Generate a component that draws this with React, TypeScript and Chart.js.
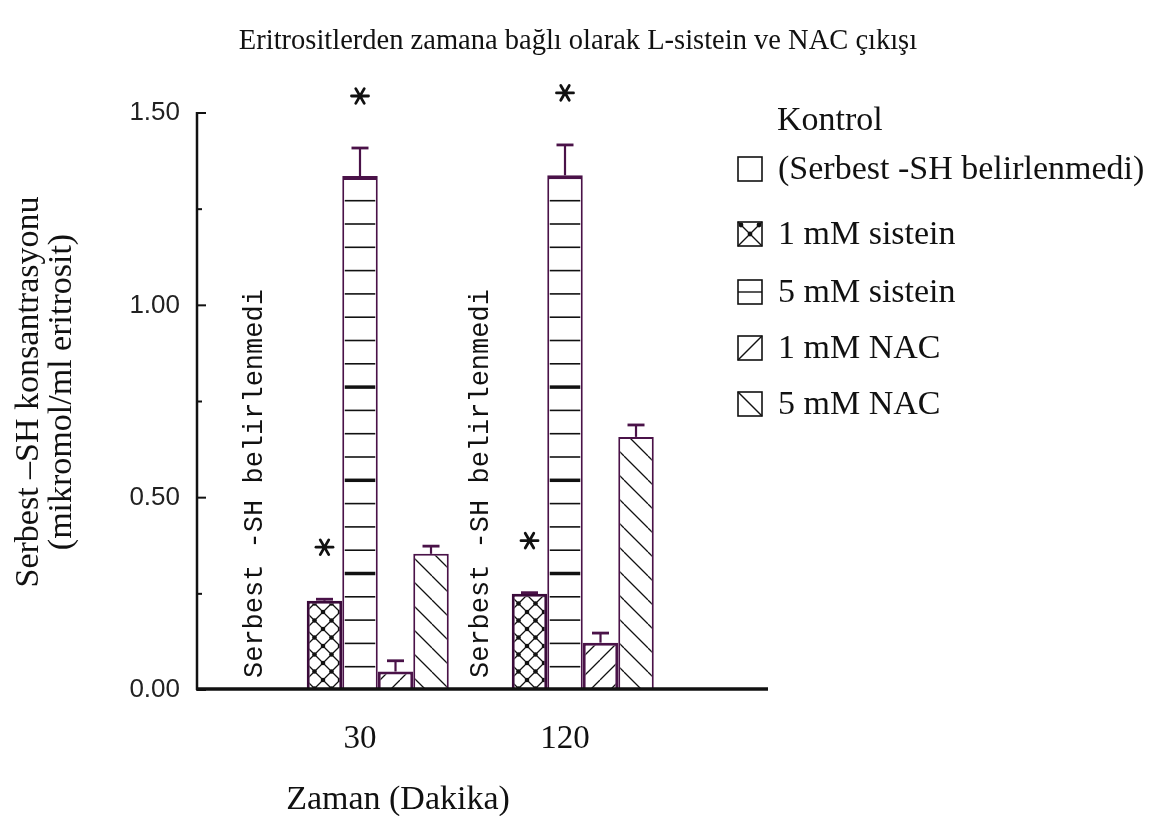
import React, { useEffect, useRef } from 'react';
import { Chart, registerables } from 'chart.js';

Chart.register(...registerables);

// Sampling times (minutes)
const groups = ['30', '120'];

// Free -SH concentration (µmol / ml erythrocyte) per treatment
const kontrol: (number | null)[] = [null, null];
const sistein1 = [0.232, 0.25];
const sistein1Err = [0.004, 0.003];
const sistein5 = [1.336, 1.338];
const sistein5Err = [0.073, 0.079];
const nac1 = [0.048, 0.123];
const nac1Err = [0.028, 0.025];
const nac5 = [0.354, 0.658];
const nac5Err = [0.02, 0.031];

// Significance marks (per dataset, per time point)
const sistein1Star = [true, true];
const sistein5Star = [true, true];

const yTickValues = [0, 0.25, 0.5, 0.75, 1.0, 1.25, 1.5];
const yMajor = [0, 0.5, 1.0, 1.5];

const chartTitle = 'Eritrositlerden zamana bağlı olarak L-sistein ve NAC çıkışı';
const yTitleLines = ['Serbest –SH konsantrasyonu', '(mikromol/ml eritrosit)'];
const xTitle = 'Zaman (Dakika)';
const notMeasured = 'Serbest -SH belirlenmedi';
const legendHeader = 'Kontrol';
const legendLabels = ['(Serbest -SH belirlenmedi)', '1 mM sistein', '5 mM sistein', '1 mM NAC', '5 mM NAC'];

const PURPLE = '#4a1248';
const DARK_PURPLE = '#3a0a3a';
const SERIF = '"Liberation Serif", "Times New Roman", serif';

// the drawn axis lines run past the category band on both sides
const AXIS_EXT_LEFT = 60.5;
const AXIS_EXT_RIGHT = 100.5;

function tile(size: number, draw: (c: CanvasRenderingContext2D, s: number) => void): CanvasPattern | string {
  const cv = document.createElement('canvas');
  cv.width = size;
  cv.height = size;
  const c = cv.getContext('2d');
  if (!c) return '#ffffff';
  c.fillStyle = '#ffffff';
  c.fillRect(0, 0, size, size);
  draw(c, size);
  const p = c.createPattern(cv, 'repeat');
  return p || '#ffffff';
}

function crossPattern() {
  return tile(17, (c, s) => {
    c.strokeStyle = '#111';
    c.lineWidth = 1.3;
    c.beginPath();
    c.moveTo(0, 0); c.lineTo(s, s);
    c.moveTo(s, 0); c.lineTo(0, s);
    c.stroke();
    c.fillStyle = '#111';
    const pts = [[s / 2, s / 2], [0, 0], [s, 0], [0, s], [s, s]];
    pts.forEach(([x, y]) => {
      c.beginPath();
      c.arc(x, y, 2.3, 0, Math.PI * 2);
      c.fill();
    });
  });
}

function slashPattern(size: number, forward: boolean) {
  return tile(size, (c, s) => {
    c.strokeStyle = '#111';
    c.lineWidth = 1.3;
    c.beginPath();
    for (let k = -1; k <= 1; k++) {
      if (forward) {
        c.moveTo(k * s, s); c.lineTo(k * s + s, 0);
      } else {
        c.moveTo(k * s, 0); c.lineTo(k * s + s, s);
      }
    }
    c.stroke();
  });
}

const errs = [null, sistein1Err, sistein5Err, nac1Err, nac5Err];
const stars = [null, sistein1Star, sistein5Star, null, null];

const decorPlugin = {
  id: 'decor',
  beforeDraw(chart: any) {
    const { ctx, width, height } = chart;
    ctx.save();
    ctx.fillStyle = '#ffffff';
    ctx.fillRect(0, 0, width, height);
    ctx.restore();
  },
  afterDatasetsDraw(chart: any) {
    const { ctx, chartArea } = chart;
    const yS = chart.scales.y;
    const axisLeft = chartArea.left - AXIS_EXT_LEFT;
    const axisRight = chartArea.right + AXIS_EXT_RIGHT;
    ctx.save();

    // horizontal rulings inside the 5 mM sistein bars
    const m5 = chart.getDatasetMeta(2);
    m5.data.forEach((el: any) => {
      const left = el.x - el.width / 2 + 2.5;
      const right = el.x + el.width / 2 - 2.5;
      ctx.strokeStyle = '#111';
      for (let k = 1; ; k++) {
        const yy = el.base - 23.3 * k;
        if (yy < el.y + 6) break;
        const thick = k >= 5 && k <= 13 && k % 4 === 1;
        ctx.lineWidth = thick ? 3.5 : 1.6;
        ctx.beginPath();
        ctx.moveTo(left, yy);
        ctx.lineTo(right, yy);
        ctx.stroke();
      }
    });

    // error bars
    chart.data.datasets.forEach((ds: any, di: number) => {
      const e = errs[di];
      if (!e) return;
      const meta = chart.getDatasetMeta(di);
      meta.data.forEach((el: any, i: number) => {
        const v = ds.data[i];
        if (v == null || !e[i]) return;
        const yTop = yS.getPixelForValue(v + e[i]);
        ctx.strokeStyle = PURPLE;
        ctx.lineWidth = 2.2;
        ctx.beginPath();
        ctx.moveTo(el.x, el.y);
        ctx.lineTo(el.x, yTop);
        ctx.stroke();
        ctx.lineWidth = 2.8;
        ctx.beginPath();
        ctx.moveTo(el.x - 8.5, yTop);
        ctx.lineTo(el.x + 8.5, yTop);
        ctx.stroke();
      });
    });

    // significance asterisks
    chart.data.datasets.forEach((ds: any, di: number) => {
      const st = stars[di];
      if (!st) return;
      const e = errs[di] || [];
      const meta = chart.getDatasetMeta(di);
      meta.data.forEach((el: any, i: number) => {
        if (!st[i]) return;
        const v = ds.data[i] + (e[i] || 0);
        const cy = yS.getPixelForValue(v) - 52;
        const cx = el.x;
        ctx.strokeStyle = '#111';
        ctx.lineWidth = 2.8;
        ctx.lineCap = 'round';
        for (let a = 0; a < 3; a++) {
          const ang = (a * Math.PI) / 3;
          const dx = Math.cos(ang) * 8.5;
          const dy = Math.sin(ang) * 8.5;
          ctx.beginPath();
          ctx.moveTo(cx - dx, cy - dy);
          ctx.lineTo(cx + dx, cy + dy);
          ctx.stroke();
        }
        ctx.fillStyle = '#111';
        ctx.beginPath();
        ctx.arc(cx, cy, 2.6, 0, Math.PI * 2);
        ctx.fill();
        ctx.lineCap = 'butt';
      });
    });

    // axes with inward ticks
    ctx.strokeStyle = '#111';
    ctx.lineWidth = 2.5;
    ctx.beginPath();
    ctx.moveTo(axisLeft, chartArea.top - 1);
    ctx.lineTo(axisLeft, chartArea.bottom);
    ctx.stroke();
    ctx.lineWidth = 2;
    yTickValues.forEach((v) => {
      const yy = yS.getPixelForValue(v);
      const len = yMajor.includes(v) ? 9 : 5;
      ctx.beginPath();
      ctx.moveTo(axisLeft, yy);
      ctx.lineTo(axisLeft + len, yy);
      ctx.stroke();
    });
    ctx.lineWidth = 3.5;
    ctx.beginPath();
    ctx.moveTo(axisLeft - 1, chartArea.bottom - 1);
    ctx.lineTo(axisRight, chartArea.bottom - 1);
    ctx.stroke();

    // "not measured" notes next to the empty control slots
    const m1 = chart.getDatasetMeta(1);
    const noteShift = [-34, -13];
    ctx.fillStyle = '#111';
    ctx.font = `27px "Liberation Mono", "Courier New", monospace`;
    ctx.textAlign = 'left';
    ctx.textBaseline = 'middle';
    m1.data.forEach((el: any, i: number) => {
      const slotCenter = el.x - el.width;
      ctx.save();
      ctx.translate(slotCenter + noteShift[i], chartArea.bottom - 12);
      ctx.rotate(-Math.PI / 2);
      ctx.fillText(notMeasured, 0, 0);
      ctx.restore();
    });

    ctx.restore();
  },
  afterDraw(chart: any) {
    const { ctx } = chart;
    ctx.save();
    ctx.fillStyle = '#111';
    ctx.textBaseline = 'middle';

    // main title
    ctx.font = `28.5px ${SERIF}`;
    ctx.textAlign = 'center';
    ctx.fillText(chartTitle, 578, 42);

    // axis titles
    ctx.font = `34px ${SERIF}`;
    const yCenters = [[29, 392], [62, 392]];
    yTitleLines.forEach((t, i) => {
      ctx.save();
      ctx.translate(yCenters[i][0], yCenters[i][1]);
      ctx.rotate(-Math.PI / 2);
      ctx.fillText(t, 0, 0);
      ctx.restore();
    });
    ctx.font = `34px ${SERIF}`;
    ctx.fillText(xTitle, 398, 800);

    // legend
    ctx.textAlign = 'left';
    ctx.font = `34px ${SERIF}`;
    ctx.fillText(legendHeader, 777, 121);
    const boxX = 738;
    const boxS = 24;
    const boxY = [157, 222, 280, 336, 392];
    legendLabels.forEach((lab, i) => {
      const by = boxY[i];
      ctx.strokeStyle = '#111';
      ctx.lineWidth = 1.6;
      ctx.strokeRect(boxX, by, boxS, boxS);
      ctx.lineWidth = 1.4;
      ctx.beginPath();
      if (i === 1) {
        ctx.moveTo(boxX, by); ctx.lineTo(boxX + boxS, by + boxS);
        ctx.moveTo(boxX + boxS, by); ctx.lineTo(boxX, by + boxS);
      } else if (i === 2) {
        ctx.moveTo(boxX, by + boxS / 2); ctx.lineTo(boxX + boxS, by + boxS / 2);
      } else if (i === 3) {
        ctx.moveTo(boxX, by + boxS); ctx.lineTo(boxX + boxS, by);
      } else if (i === 4) {
        ctx.moveTo(boxX, by); ctx.lineTo(boxX + boxS, by + boxS);
      }
      ctx.stroke();
      if (i === 1) {
        ctx.fillStyle = '#111';
        [[boxX + 3, by + 3], [boxX + boxS - 3, by + 3], [boxX + boxS / 2, by + boxS / 2]].forEach(([px, py]) => {
          ctx.beginPath();
          ctx.arc(px, py, 2.4, 0, Math.PI * 2);
          ctx.fill();
        });
      }
      ctx.fillStyle = '#111';
      ctx.fillText(lab, 778, by + boxS / 2 + 1);
    });

    ctx.restore();
  },
};

export default function App() {
  const ref = useRef<HTMLCanvasElement | null>(null);

  useEffect(() => {
    if (!ref.current) return;

    const chart = new Chart(ref.current, {
      type: 'bar',
      data: {
        labels: groups,
        datasets: [
          { label: 'Kontrol', data: kontrol, backgroundColor: '#ffffff', borderColor: PURPLE, borderWidth: 2 },
          {
            label: '1 mM sistein', data: sistein1, backgroundColor: crossPattern(),
            borderColor: DARK_PURPLE, borderWidth: 3,
          },
          {
            label: '5 mM sistein', data: sistein5, backgroundColor: '#ffffff',
            borderColor: PURPLE, borderWidth: { left: 2, right: 2, top: 4, bottom: 0 },
          },
          {
            label: '1 mM NAC', data: nac1, backgroundColor: slashPattern(20, true),
            borderColor: PURPLE, borderWidth: 3,
          },
          {
            label: '5 mM NAC', data: nac5, backgroundColor: slashPattern(24, false),
            borderColor: PURPLE, borderWidth: 2,
          },
        ] as any,
      },
      options: {
        responsive: false,
        animation: false,
        datasets: { bar: { barPercentage: 1, categoryPercentage: 0.866 } },
        layout: { padding: { left: 0, top: 113, right: 485.5, bottom: 0 } },
        plugins: {
          legend: { display: false },
          tooltip: { enabled: false },
          title: { display: false },
        },
        scales: {
          x: {
            type: 'category',
            offset: true,
            grid: { display: false, drawTicks: false },
            border: { display: false },
            afterFit: (s: any) => { s.height = 126; },
            ticks: {
              autoSkip: false,
              maxRotation: 0,
              padding: 30,
              color: '#111',
              font: { family: SERIF, size: 33 },
            },
          },
          y: {
            min: 0,
            max: 1.5,
            grid: { display: false, drawTicks: false },
            border: { display: false },
            afterBuildTicks: (s: any) => { s.ticks = yTickValues.map((v) => ({ value: v })); },
            afterFit: (s: any) => { s.width = 257.5; },
            ticks: {
              padding: 17 + AXIS_EXT_LEFT,
              color: '#222',
              font: { family: '"Liberation Sans", Arial, sans-serif', size: 26 },
              callback: (v: any) => (yMajor.includes(Number(v)) ? Number(v).toFixed(2) : ''),
            },
          },
        },
      } as any,
      plugins: [decorPlugin],
    });

    return () => chart.destroy();
  }, []);

  return (
    <div style={{ position: 'fixed', left: 0, top: 0, width: 1153, height: 816, background: '#fff' }}>
      <canvas ref={ref} width={1153} height={816} style={{ display: 'block' }} />
    </div>
  );
}
